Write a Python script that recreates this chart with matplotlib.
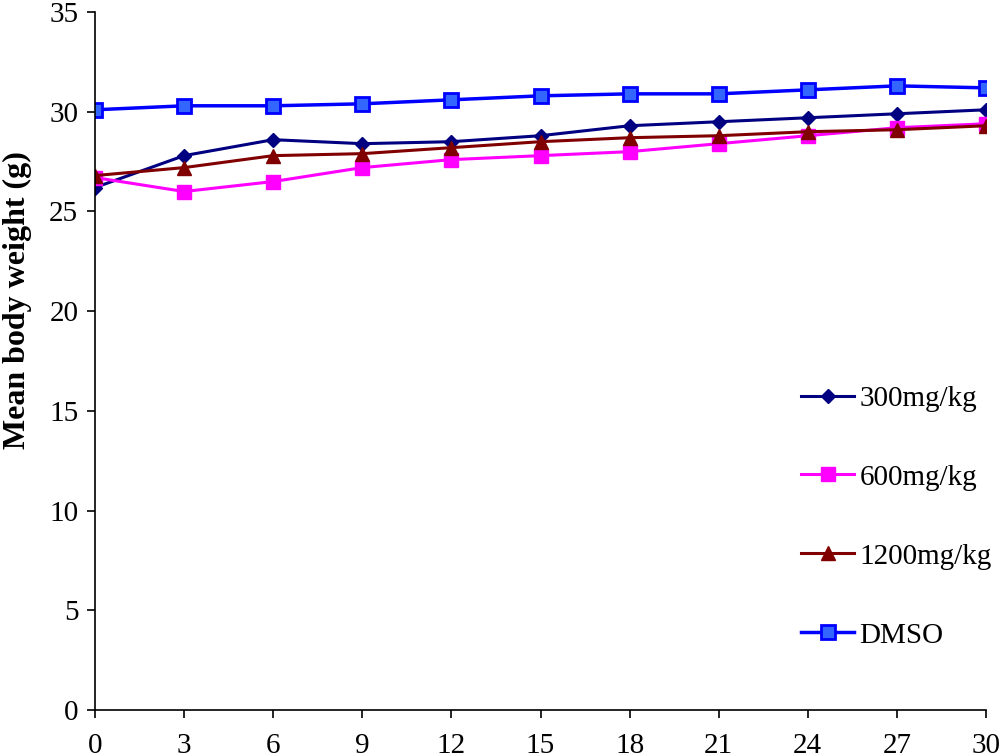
import numpy as np
import matplotlib
matplotlib.use('Agg')
import matplotlib.pyplot as plt

plt.rcParams['font.family'] = ['Liberation Serif', 'DejaVu Serif']

# 数据
days = [0, 3, 6, 9, 12, 15, 18, 21, 24, 27, 30]
w300 = [26.2, 27.8, 28.6, 28.4, 28.5, 28.8, 29.3, 29.5, 29.7, 29.9, 30.1]
w600 = [26.7, 26.0, 26.5, 27.2, 27.6, 27.8, 28.0, 28.4, 28.8, 29.2, 29.4]
w1200 = [26.8, 27.2, 27.8, 27.9, 28.2, 28.5, 28.7, 28.8, 29.0, 29.1, 29.3]
dmso = [30.1, 30.3, 30.3, 30.4, 30.6, 30.8, 30.9, 30.9, 31.1, 31.3, 31.2]

fig = plt.figure(figsize=(10, 7.56), dpi=100)
ax = fig.add_axes([0.095, 0.061, 0.891, 0.923])

ax.plot(days, w300, color='#000080', lw=2.2, marker='D', ms=7.5,
        label='300mg/kg')
ax.plot(days, w600, color='#FF00FF', lw=2.2, marker='s', ms=10,
        label='600mg/kg')
ax.plot(days, w1200, color='#800000', lw=2.2, marker='^', ms=10.5,
        label='1200mg/kg')
ax.plot(days, dmso, color='#0000FF', lw=2.5, marker='s', ms=10.5,
        markerfacecolor='#3366FF', markeredgecolor='#0000FF', mew=2,
        label='DMSO')

ax.set_xlim(0, 30)
ax.set_ylim(0, 35)
ax.set_xticks(days)
ax.set_yticks(np.arange(0, 36, 5))
ax.tick_params(labelsize=21, length=6, width=1.2, direction='out')
ax.tick_params(axis='x', pad=11)
ax.tick_params(axis='y', pad=6)
ax.spines['top'].set_visible(False)
ax.spines['right'].set_visible(False)
ax.spines['left'].set_linewidth(1.2)
ax.spines['bottom'].set_linewidth(1.2)
ax.set_ylabel('Mean body weight (g)', fontsize=23, fontweight='bold')
# 纵轴标题在参考图中偏上
ax.yaxis.set_label_coords(-0.071, 0.587)

ax.legend(loc='upper left', bbox_to_anchor=(0.775, 0.525), bbox_transform=fig.transFigure,
          frameon=False, fontsize=21, labelspacing=1.8, handlelength=1.8,
          handletextpad=0.2)

fig.savefig('out.png', dpi=100)
